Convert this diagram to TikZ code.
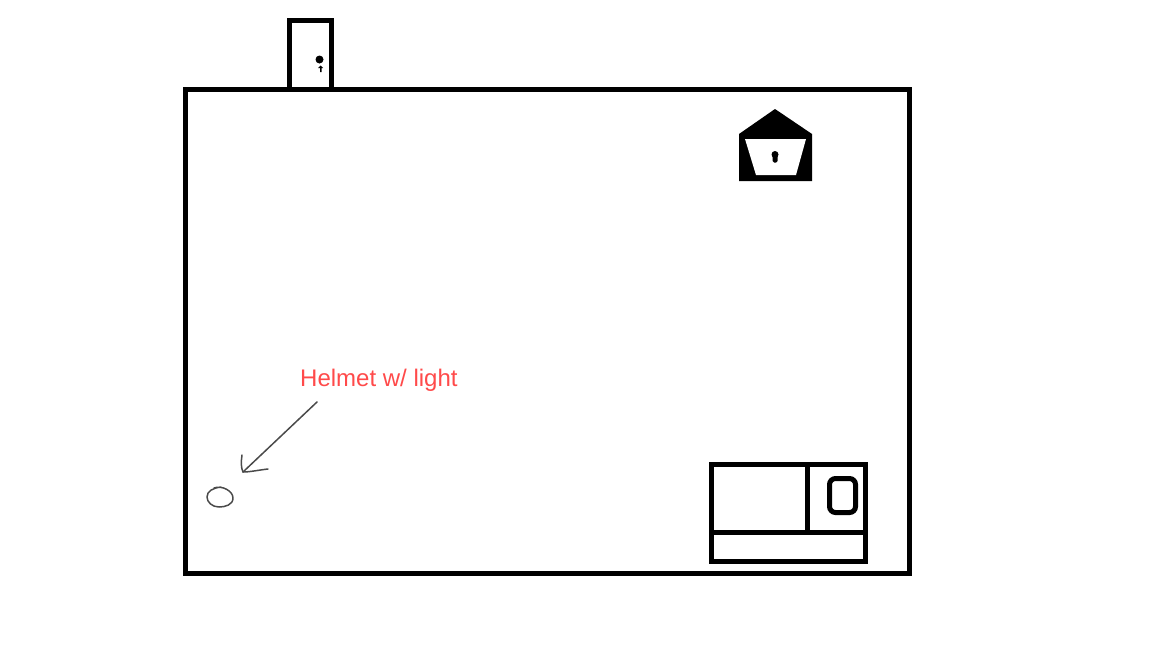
\documentclass[tikz,border=0pt]{standalone}
\usepackage{fontspec}
\setmainfont{Liberation Sans}
\definecolor{labelred}{HTML}{FF4A4A}
\definecolor{sketch}{HTML}{4A4A4A}
\tikzset{
  wall/.style={draw=black,line width=5pt,line join=miter},
  pen/.style={draw=sketch,line width=1.5pt,line cap=round,line join=round},
}
\begin{document}
\begin{tikzpicture}[x=1pt,y=-1pt]
\useasboundingbox (0,0) rectangle (1152,648);
% door
\draw[wall] (289.5,90) -- (289.5,20.5) -- (331.5,20.5) -- (331.5,90);
\fill (319.5,59.5) circle (4);
\fill (318,68) -- (320.5,65.5) -- (323,68) -- (321.5,68) -- (321.5,72) -- (320,72) -- (320,68) -- cycle;
% room
\draw[wall] (185.5,89.5) rectangle (909.5,573);
% safe
\fill (739,134) -- (775,109) -- (812,134) -- (812,181) -- (739,181) -- cycle;
\fill[white] (745,139) -- (806,139) -- (796,175) -- (756,175) -- cycle;
\fill (775,154.5) circle (3.5);
\fill[rounded corners=1.5pt] (772.5,154) rectangle (777.5,162.5);
% cabinet
\draw[wall] (711.5,464.5) rectangle (865.5,561.5);
\draw[wall] (711.5,532.5) -- (865.5,532.5);
\draw[wall] (807.5,464.5) -- (807.5,532.5);
\draw[wall,rounded corners=6pt] (829.5,478.5) rectangle (855.5,512.5);
% helmet
\coordinate (tail) at (317,402);
\coordinate (tip) at (243,472);
\draw[pen] (tail) -- (tip);
\draw[pen] (242,455) .. controls (241,462) and (241,468) .. (tip) .. controls (250,472) and (259,470) .. (268,469);
\draw[pen] (214,488) .. controls (222,485) and (233,491) .. (233,498) .. controls (233,505) and (225,507) .. (219,507) .. controls (212,507) and (207,502) .. (207,497) .. controls (207,491) and (213,488) .. (221,487);
\node[anchor=base west,inner sep=0pt,text=labelred,font=\fontsize{24}{28}\selectfont] (label) at (300,386) {Helmet w/ light};
\end{tikzpicture}
\end{document}
